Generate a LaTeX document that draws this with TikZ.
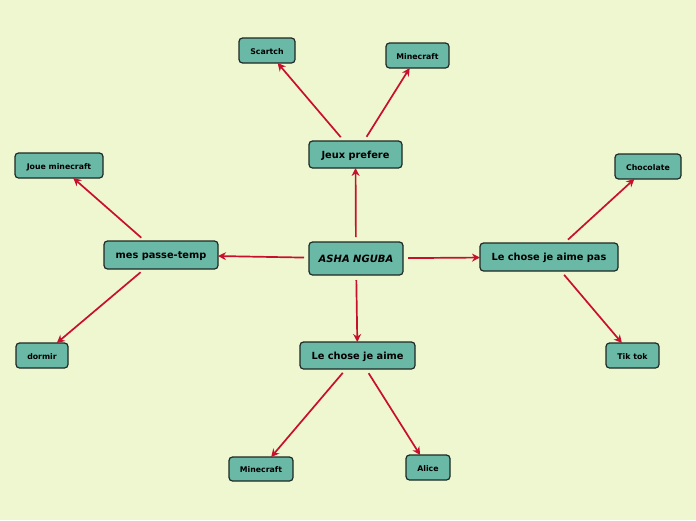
\documentclass[tikz,border=0pt]{standalone}
\usepackage{fontspec}
\setmainfont{DejaVu Sans}
\usetikzlibrary{arrows.meta}
\definecolor{bgc}{RGB}{238,247,208}
\definecolor{boxc}{RGB}{106,184,166}
\definecolor{edgec}{RGB}{30,40,34}
\definecolor{arrc}{RGB}{200,16,46}
\tikzset{
  box/.style={draw=edgec, fill=boxc, line width=1.2pt, rounded corners=3.5pt,
    inner sep=0pt, outer sep=0pt, font=\bfseries, text=black,
    text height=0.73em, text depth=0pt},
  bigbox/.style={box, font=\fontsize{9.8}{11}\selectfont\bfseries},
  smallbox/.style={box, font=\fontsize{7.8}{9}\selectfont\bfseries},
  conn/.style={draw=arrc, line width=1.7pt, shorten <=5pt,
    -{Stealth[length=8pt,width=8pt]}}
}
\begin{document}
\begin{tikzpicture}[x=1pt,y=-1pt]
\fill[bgc] (0,0) rectangle (696,520);
\useasboundingbox (0,0) rectangle (696,520);
\node[bigbox, minimum width=94pt, minimum height=33pt, font=\fontsize{10}{12}\selectfont\bfseries\itshape] (c) at (356,258.5) {ASHA NGUBA};
\node[bigbox, minimum width=93pt, minimum height=27pt] (jeux) at (355.5,154.5) {Jeux prefere};
\node[smallbox, minimum width=56pt, minimum height=25pt] (scar) at (267,50.5) {Scartch};
\node[smallbox, minimum width=63pt, minimum height=25pt] (mine1) at (417.5,55.5) {Minecraft};
\node[bigbox, minimum width=114pt, minimum height=28pt] (mes) at (161,255) {mes passe-temp};
\node[smallbox, minimum width=88pt, minimum height=25pt] (joue) at (59,165.5) {Joue minecraft};
\node[smallbox, minimum width=52pt, minimum height=25pt] (dorm) at (42,355.5) {dormir};
\node[bigbox, minimum width=138pt, minimum height=28pt] (pas) at (549,257) {Le chose je aime pas};
\node[smallbox, minimum width=66pt, minimum height=25pt] (choc) at (648,166.5) {Chocolate};
\node[smallbox, minimum width=53pt, minimum height=25pt] (tik) at (632.5,355.5) {Tik tok};
\node[bigbox, minimum width=115pt, minimum height=27pt] (aime) at (357.5,355.5) {Le chose je aime};
\node[smallbox, minimum width=64pt, minimum height=24pt] (mine2) at (261,469) {Minecraft};
\node[smallbox, minimum width=44pt, minimum height=25pt] (alice) at (428,467.5) {Alice};
\draw[conn] (c) -- (jeux);
\draw[conn] (c) -- (mes);
\draw[conn] (c) -- (pas);
\draw[conn] (c) -- (aime);
\draw[conn] (jeux) -- (scar);
\draw[conn] (jeux) -- (mine1);
\draw[conn] (mes) -- (joue);
\draw[conn] (mes) -- (dorm);
\draw[conn] (pas) -- (choc);
\draw[conn] (pas) -- (tik);
\draw[conn] (aime) -- (mine2);
\draw[conn] (aime) -- (alice);
\end{tikzpicture}
\end{document}
